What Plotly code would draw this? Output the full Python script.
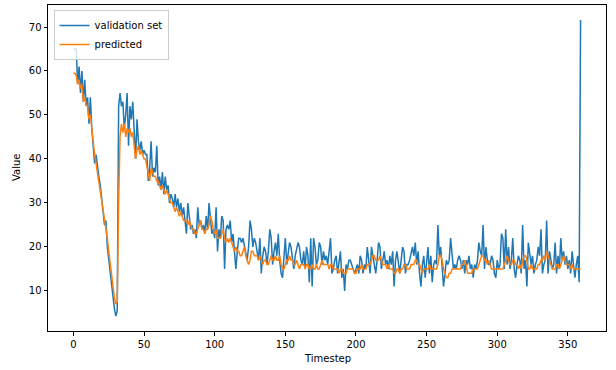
import plotly.graph_objects as go

validation = [
    65, 65, 65, 57, 61, 55, 60, 53, 58, 52,
    54, 48, 54, 47, 42, 39, 41, 38, 36, 34,
    30, 28, 25, 26, 20, 17, 14, 11, 8, 6,
    4.3, 5.5, 52, 55, 52, 53, 47, 50, 55, 43,
    52, 49, 53, 47, 40, 49, 44, 42, 44, 41,
    42, 41, 41, 35, 38, 44, 36, 38, 37, 43,
    34, 36, 33, 37, 32, 36, 33, 34, 30, 32,
    31, 29, 32, 29, 31, 28, 30, 27, 29, 26,
    23, 30, 26, 24, 25, 23, 24, 22, 29, 25,
    26, 24, 25, 23, 27, 24, 30, 27, 23, 24,
    22, 29, 19, 24, 22, 27, 26, 15, 24, 25,
    24, 26, 21, 23, 18, 15, 19, 22, 22, 21,
    22, 20, 18, 17, 20, 26, 24, 20, 22, 21,
    19, 17, 22, 14, 18, 20, 19, 16, 19, 24,
    22, 16, 19, 21, 18, 23, 17, 14, 13, 18,
    22, 16, 19, 21, 20, 17, 15, 18, 20, 21,
    20, 17, 16, 19, 15, 20, 18, 12, 22, 11,
    22, 20, 16, 17, 21, 20, 16, 19, 17, 18,
    16, 19, 22, 14, 15, 17, 18, 14, 16, 19,
    13, 15, 10, 16, 15, 17, 17, 16, 15, 14,
    15, 16, 14, 18, 17, 14, 16, 15, 20, 17,
    14, 20, 18, 16, 14, 17, 21, 20, 15, 17,
    19, 16, 17, 15, 18, 16, 19, 11, 17, 19,
    16, 14, 17, 20, 19, 14, 16, 16, 17, 19,
    20, 18, 21, 16, 19, 14, 11, 16, 18, 13,
    16, 20, 14, 18, 12, 16, 17, 16, 25, 18,
    20, 15, 11, 14, 17, 16, 17, 22, 19, 15,
    16, 15, 17, 18, 17, 15, 17, 14, 17, 16,
    18, 15, 16, 13, 16, 15, 17, 21, 19, 18,
    25, 15, 20, 17, 16, 16, 18, 17, 14, 13,
    17, 15, 16, 23, 22, 15, 24, 16, 20, 15,
    17, 22, 15, 13, 16, 18, 17, 14, 25, 15,
    17, 11, 21, 18, 16, 18, 14, 16, 17, 20,
    18, 24, 14, 16, 17, 26, 14, 19, 17, 15,
    16, 21, 14, 18, 15, 22, 17, 19, 16, 18,
    15, 17, 14, 19, 16, 13, 16, 18, 12, 71.6,
]

predicted = [
    59.5, 59.5, 59, 57, 58, 56, 57, 53, 54, 52.5,
    52, 49, 50, 47, 43, 41, 39, 37, 35, 33,
    31, 29, 26, 24, 22, 19, 16, 13, 11, 8.5,
    7, 7.5, 30, 45, 48, 46, 48, 45, 47, 46,
    47, 45, 46, 43, 40, 42, 43, 41, 42, 41,
    40, 40, 38, 36, 35, 38, 37, 36, 36, 35,
    35, 34, 33, 34, 33, 32, 33, 32, 31, 30,
    30, 29, 28, 29, 28, 27, 28, 27, 26, 26,
    26, 25, 26, 25, 24, 24, 23, 23, 24, 25,
    26, 24, 24, 23, 24, 24, 25, 27, 26, 24,
    23, 24, 22, 22, 22, 23, 24, 22, 21, 22,
    21, 22, 21, 20, 19, 20, 19, 19, 18, 18,
    19, 20, 18, 17, 16, 17, 19, 19, 18, 18,
    18, 17, 18, 17, 16, 17, 17, 16, 16, 17,
    18, 17, 17, 18, 17, 17, 18, 16, 15, 15,
    16, 17, 17, 18, 17, 17, 16, 16, 17, 16,
    15, 16, 16, 16, 15, 16, 16, 15, 15, 16,
    15, 15, 16, 15, 15, 16, 17, 16, 16, 16,
    16, 15, 16, 16, 15, 15, 15, 15, 14, 15,
    15, 14, 14, 14, 15, 15, 15, 15, 15, 14,
    14, 15, 15, 15, 16, 15, 15, 15, 16, 16,
    16, 17, 18, 18, 17, 17, 17, 18, 17, 16,
    16, 16, 15, 16, 15, 15, 15, 14, 14, 15,
    15, 14, 15, 15, 16, 16, 15, 15, 15, 16,
    16, 16, 17, 17, 16, 16, 15, 14, 15, 15,
    15, 15, 16, 15, 15, 15, 15, 15, 16, 18,
    18, 17, 15, 14, 13, 13, 14, 14, 15, 15,
    15, 15, 15, 15, 15, 16, 16, 17, 16, 14,
    14, 14, 14, 15, 15, 15, 15, 16, 17, 18,
    18, 17, 17, 16, 17, 16, 15, 15, 15, 15,
    15, 15, 15, 15, 15, 16, 17, 18, 17, 16,
    16, 17, 17, 16, 16, 15, 16, 15, 17, 18,
    18, 17, 15, 15, 16, 15, 15, 15, 15, 16,
    16, 17, 17, 18, 17, 19, 18, 17, 16, 15,
    15, 15, 16, 16, 15, 16, 17, 18, 17, 16,
    16, 16, 15, 16, 15, 15, 15, 15, 15, 15,
]

timesteps = list(range(len(validation)))
x_ticks = [0, 50, 100, 150, 200, 250, 300, 350]
y_ticks = [10, 20, 30, 40, 50, 60, 70]

fig = go.Figure()
fig.add_trace(go.Scatter(x=timesteps, y=validation, mode="lines", name="validation set",
                         line=dict(color="#1f77b4", width=1.5)))
fig.add_trace(go.Scatter(x=timesteps[:len(predicted)], y=predicted, mode="lines", name="predicted",
                         line=dict(color="#ff7f0e", width=1.5)))

axis_common = dict(showline=True, linecolor="black", linewidth=1, mirror=True,
                   ticks="outside", ticklen=3.5, tickwidth=1, tickcolor="black",
                   showgrid=False, zeroline=False, automargin=False,
                   tickfont=dict(family="DejaVu Sans", size=10, color="black"))

fig.update_layout(
    width=616, height=370,
    margin=dict(l=48, r=10, t=5, b=39),
    paper_bgcolor="white", plot_bgcolor="white",
    font=dict(family="DejaVu Sans", size=10, color="black"),
    xaxis=dict(range=[-18, 377], tickvals=x_ticks, **axis_common),
    yaxis=dict(range=[0.9, 75], tickvals=y_ticks, **axis_common),
    legend=dict(x=0.01, y=0.985, xanchor="left", yanchor="top",
                bgcolor="rgba(255,255,255,0.8)", bordercolor="#cccccc", borderwidth=1,
                font=dict(size=10), tracegroupgap=0, itemwidth=30),
    showlegend=True,
    annotations=[
        dict(text="Timestep", xref="paper", yref="paper", x=0.5, y=0, yshift=-27,
             xanchor="center", yanchor="middle", showarrow=False, font=dict(size=10)),
        dict(text="Value", xref="paper", yref="paper", x=0, y=0.5, xshift=-32,
             xanchor="center", yanchor="middle", showarrow=False, textangle=-90,
             font=dict(size=10)),
    ],
)

fig.write_html("out.html", config={"displayModeBar": False},
               post_script="document.body.style.margin='0';document.body.style.padding='0';")
